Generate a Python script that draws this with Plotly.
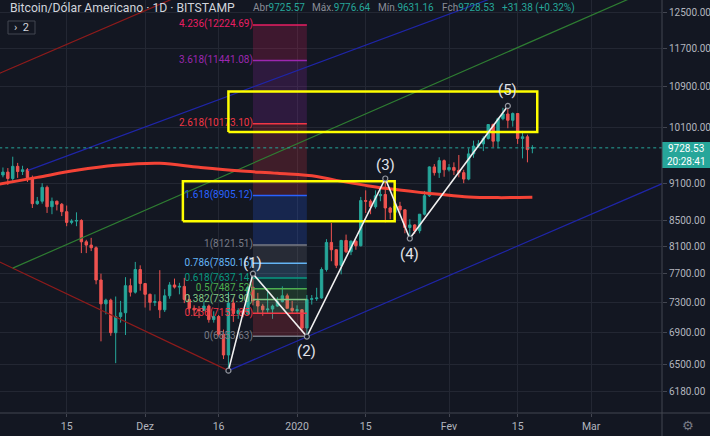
import math
import plotly.graph_objects as go
import pandas as pd

# ---------------- data ----------------
dates = pd.date_range("2019-11-01", "2020-02-18", freq="D")
opens = [9140, 9250, 9300, 9190, 9400, 9310, 9340, 9200, 8770, 8810, 9040, 8720, 8810, 8760, 8640, 8470, 8490, 8500, 8170, 8120,
         8080, 7610, 7280, 7330, 6900, 7110, 7160, 7530, 7440, 7760,
         7560, 7410, 7300, 7310, 7200, 7390, 7540, 7510, 7520, 7340, 7220, 7200, 7190, 7250, 7070, 7110, 6880, 6620, 7290, 7150,
         7190, 7140, 7510, 7320, 7250, 7200, 7210, 7250, 7310, 7390, 7220,
         7190, 7200, 6960, 7340, 7350, 7360, 7760, 8160, 8050, 7820, 8190, 8020, 8180, 8110, 8820, 8810, 8720, 8900, 8920, 8700,
         8630, 8730, 8670, 8390, 8430, 8340, 8600, 8900, 9390, 9290, 9500,
         9340, 9380, 9330, 9290, 9180, 9620, 9760, 9800, 9900, 10160, 9850, 10270, 10360, 10240, 10370, 9900, 9930, 9725.57]
highs = [9280, 9380, 9370, 9570, 9460, 9410, 9370, 9240, 8880, 9110, 9070, 8870, 8820, 8780, 8740, 8520, 8630, 8520, 8200, 8230,
         8100, 7700, 7350, 7350, 7380, 7320, 7650, 7630, 7870, 7820,
         7560, 7420, 7410, 7750, 7480, 7580, 7630, 7570, 7640, 7400, 7260, 7250, 7310, 7270, 7180, 7130, 6940, 7440, 7360, 7220,
         7200, 7520, 7690, 7430, 7280, 7450, 7270, 7370, 7520, 7420, 7320,
         7260, 7210, 7400, 7400, 7500, 7790, 8210, 8460, 8060, 8200, 8280, 8190, 8190, 8880, 8990, 8840, 8990, 9000, 9190, 8720,
         8770, 8800, 8680, 8520, 8440, 8600, 8980, 9400, 9440, 9560, 9520,
         9440, 9470, 9600, 9340, 9720, 9860, 9870, 9940, 10160, 10180, 10290, 10480, 10520, 10390, 10370, 10040, 9970, 9776.64]
lows = [9030, 9210, 9080, 9150, 9200, 9250, 9130, 8700, 8750, 8770, 8620, 8600, 8660, 8570, 8410, 8440, 8410, 8000, 8000, 8030,
        7550, 6790, 7140, 6860, 6520, 7030, 6870, 7380, 7420, 7460,
        7230, 7190, 7250, 7090, 7170, 7350, 7490, 7410, 7290, 7160, 7130, 7090, 7180, 7030, 7030, 6850, 6570, 6430, 7040, 7080,
        7100, 7130, 7260, 7160, 7120, 7160, 7080, 7240, 7300, 7220, 7160,
        7150, 6920, 6850, 7270, 7320, 7350, 7730, 7880, 7780, 7690, 8000, 7970, 8050, 8100, 8620, 8600, 8690, 8810, 8470, 8520,
        8500, 8580, 8300, 8230, 8290, 8300, 8580, 8880, 9240, 9200, 9220,
        9310, 9250, 9210, 9110, 9160, 9550, 9730, 9670, 9880, 9740, 9720, 10240, 10090, 10120, 9800, 9540, 9470, 9631.16]
closes = [9250, 9300, 9190, 9400, 9310, 9340, 9200, 8770, 8810, 9040, 8720, 8810, 8760, 8640, 8470, 8490, 8500, 8170, 8120, 8080,
          7610, 7280, 7330, 6900, 7110, 7160, 7530, 7440, 7760, 7560,
          7410, 7300, 7310, 7200, 7390, 7540, 7510, 7520, 7340, 7220, 7200, 7190, 7250, 7070, 7110, 6880, 6620, 7290, 7150, 7190,
          7140, 7510, 7320, 7250, 7200, 7210, 7250, 7310, 7390, 7220, 7190,
          7200, 6960, 7340, 7350, 7360, 7760, 8160, 8050, 7820, 8190, 8020, 8180, 8110, 8820, 8810, 8720, 8900, 8920, 8700, 8630,
          8730, 8670, 8390, 8430, 8340, 8600, 8900, 9390, 9290, 9500, 9340,
          9380, 9330, 9290, 9180, 9620, 9760, 9800, 9900, 10160, 9850, 10270, 10360, 10240, 10370, 9900, 9930, 9697.15, 9728.53]

ma_dates = ["2019-11-01", "2019-11-09", "2019-11-17", "2019-11-25", "2019-12-04", "2019-12-12", "2019-12-20", "2019-12-28",
            "2020-01-05", "2020-01-09", "2020-01-15", "2020-01-19", "2020-01-26", "2020-01-30", "2020-02-05", "2020-02-11",
            "2020-02-18"]
ma_values = [9090, 9209, 9330, 9417, 9452, 9382, 9321, 9278, 9226, 9158, 9073, 9023, 8956, 8923, 8879, 8869, 8874]

wave_dates = ["2019-12-18", "2019-12-23", "2020-01-03", "2020-01-19", "2020-01-24", "2020-02-13"]
wave_prices = [6430, 7700, 6850, 9190, 8220, 10517]
wave_labels = ["", "(1)", "(2)", "(3)", "(4)", "(5)"]
wave_label_shift = [0, 11, -14, 13, -15, 16]

fib_ratios = [0, 0.236, 0.382, 0.5, 0.618, 0.786, 1, 1.618, 2.618, 3.618, 4.236]
fib_prices = [6853.63, 7152.85, 7337.90, 7487.52, 7637.14, 7850.16, 8121.51, 8905.12, 10173.10, 11441.08, 12224.69]
fib_colors = ["#787b86", "#f23645", "#81c784", "#4caf50", "#089981", "#64b5f6", "#787b86", "#2962ff", "#f23645",
              "#9c27b0", "#e91e63"]
fib_dates = ["2019-12-23", "2020-01-03"]

# trend lines (date, price)
red_down = (["2019-10-30", "2019-12-18"], [7950, 6430])
green_up = (["2019-11-04", "2020-03-15"], [7780, 13156])
blue_low = (["2019-12-18", "2020-03-16"], [6430, 9120])
blue_up = (["2019-11-07 03:00", "2020-02-11 13:00"], [9330, 12925])
red_top = (["2019-10-30", "2019-12-10"], [11073, 13005])

rect_a = (["2019-12-08 17:00", "2020-01-20 22:00"], [8486, 9141])
rect_b = (["2019-12-18 00:00", "2020-02-19 00:00"], [10019, 10802])

last_price = 9728.53
y_ticks = [6180, 6500, 6900, 7300, 7700, 8100, 8500, 9100, 10100, 10900, 11700, 12500]
x_tick_dates = ["2019-11-15", "2019-12-01", "2019-12-16", "2020-01-01", "2020-01-15", "2020-02-01", "2020-02-15", "2020-03-01"]
x_tick_text = ["15", "Dez", "16", "2020", "15", "Fev", "15", "Mar"]

# ---------------- figure ----------------
BG = "#131722"
GRID = "#232733"
TXT = "#b2b5be"
TEAL = "#26a69a"
W, H = 710, 436
PW, PH = 662, 413


def px(x):
    return x / PW


def py(y):
    return 1 - y / PH


fig = go.Figure()

# fib zones
for i in range(len(fib_ratios) - 1):
    c = fib_colors[i + 1]
    r, g, b = int(c[1:3], 16), int(c[3:5], 16), int(c[5:7], 16)
    fig.add_trace(go.Scatter(
        x=[fib_dates[0], fib_dates[1], fib_dates[1], fib_dates[0], fib_dates[0]],
        y=[fib_prices[i], fib_prices[i], fib_prices[i + 1], fib_prices[i + 1], fib_prices[i]],
        mode="lines", fill="toself", fillcolor=f"rgba({r},{g},{b},0.2)", line=dict(width=0),
        hoverinfo="skip", showlegend=False))
for i, p in enumerate(fib_prices):
    fig.add_trace(go.Scatter(x=fib_dates, y=[p, p], mode="lines", line=dict(color=fib_colors[i], width=1.5),
                             hoverinfo="skip", showlegend=False))
fig.add_trace(go.Scatter(
    x=[fib_dates[0]] * len(fib_prices), y=fib_prices, mode="text",
    text=[f"{r}({p:.2f})" for r, p in zip(fib_ratios, fib_prices)],
    textposition="middle left", textfont=dict(color=fib_colors, size=10, family="Roboto"),
    hoverinfo="skip", showlegend=False))

# trend lines
for (lx, ly), col in [(red_down, "#8e1b1b"), (green_up, "#2e7d32"), (blue_low, "#1f25a8"),
                      (blue_up, "#1f25a8"), (red_top, "#8e1b1b")]:
    fig.add_trace(go.Scatter(x=lx, y=ly, mode="lines", line=dict(color=col, width=1.2),
                             hoverinfo="skip", showlegend=False))

# moving average
fig.add_trace(go.Scatter(x=ma_dates, y=ma_values, mode="lines", line=dict(color="#f44336", width=3, shape="spline"),
                         hoverinfo="skip", showlegend=False))

# candles
fig.add_trace(go.Candlestick(
    x=dates, open=opens, high=highs, low=lows, close=closes,
    increasing=dict(line=dict(color=TEAL, width=1), fillcolor=TEAL),
    decreasing=dict(line=dict(color="#ef5350", width=1), fillcolor="#ef5350"),
    whiskerwidth=0, showlegend=False))

# last price dotted line
fig.add_trace(go.Scatter(x=["2019-10-20", "2020-03-25"], y=[last_price, last_price], mode="lines",
                         line=dict(color=TEAL, width=1, dash="dot"), hoverinfo="skip", showlegend=False))

# yellow rectangles
for (rx, ry) in [rect_a, rect_b]:
    fig.add_trace(go.Scatter(x=[rx[0], rx[1], rx[1], rx[0], rx[0]], y=[ry[0], ry[0], ry[1], ry[1], ry[0]],
                             mode="lines", line=dict(color="#ffff00", width=2.5), hoverinfo="skip", showlegend=False))

# Elliott wave
fig.add_trace(go.Scatter(x=wave_dates, y=wave_prices, mode="lines+markers",
                         line=dict(color="#f0f0f0", width=1.6),
                         marker=dict(symbol="circle", size=5, color=BG, line=dict(color="#9598a1", width=1.2)),
                         hoverinfo="skip", showlegend=False))

ann = []
for d, p, t, s in zip(wave_dates, wave_prices, wave_labels, wave_label_shift):
    if t:
        ann.append(dict(text=t, x=d, y=math.log10(p), xref="x", yref="y", yshift=s, showarrow=False,
                        xanchor="center", yanchor="middle",
                        font=dict(color="#e0e3eb", size=15, family="Roboto")))

ann.append(dict(text="Bitcoin/Dólar Americano · 1D · BITSTAMP", x=px(8), y=py(8), xref="paper", yref="paper",
                xanchor="left", yanchor="middle", showarrow=False, font=dict(size=12.2, color="#d1d4dc", family="Roboto")))
ohlc = [("Abr", "9725.57", 251), ("Máx.", "9776.64", 310), ("Mín.", "9631.16", 376.5), ("Fch", "9728.53", 440),
        ("", "+31.38 (+0.32%)", 500)]
for lab, val, xx in ohlc:
    ann.append(dict(text=f"{lab}<span style='color:{TEAL}'>{val}</span>", x=px(xx), y=py(8), xref="paper",
                    yref="paper", xanchor="left", yanchor="middle", showarrow=False,
                    font=dict(size=10, color="#8a8d97", family="Roboto")))
ann.append(dict(text="›  2", x=px(21.5), y=py(27.5), xref="paper", yref="paper", xanchor="center", yanchor="middle",
                showarrow=False, font=dict(size=11, color="#d1d4dc", family="Roboto")))
ann.append(dict(text="9728.53", x=px(686), y=py(148.5), xref="paper", yref="paper", xanchor="center", yanchor="middle",
                showarrow=False, font=dict(size=10, color="#ffffff", family="Roboto")))
ann.append(dict(text="20:28:41", x=px(686), y=py(161.5), xref="paper", yref="paper", xanchor="center", yanchor="middle",
                showarrow=False, font=dict(size=10, color="#ffffff", family="Roboto")))
ann.append(dict(text="⚙", x=px(688), y=py(425), xref="paper", yref="paper", xanchor="center", yanchor="middle",
                showarrow=False, font=dict(size=13, color="#787b86", family="DejaVu Sans")))

shapes = [
    dict(type="rect", xref="paper", yref="paper", x0=px(8), x1=px(35), y0=py(34), y1=py(21),
         line=dict(color="#434651", width=1), fillcolor="rgba(0,0,0,0)"),
    dict(type="rect", xref="paper", yref="paper", x0=px(662), x1=px(710), y0=py(168), y1=py(142),
         line=dict(width=0), fillcolor=TEAL, layer="above"),
    dict(type="line", xref="paper", yref="paper", x0=px(662), x1=px(662), y0=py(436), y1=py(0),
         line=dict(color="#434651", width=1)),
    dict(type="line", xref="paper", yref="paper", x0=0, x1=px(710), y0=py(413), y1=py(413),
         line=dict(color="#434651", width=1)),
]

fig.update_layout(
    width=W, height=H, autosize=False,
    paper_bgcolor=BG, plot_bgcolor=BG,
    margin=dict(l=0, r=W - PW, t=0, b=H - PH, pad=0),
    showlegend=False,
    annotations=ann, shapes=shapes,
    font=dict(family="Roboto", color=TXT),
    xaxis=dict(type="date", range=["2019-11-01 09:36", "2020-03-15 10:48"], rangeslider=dict(visible=False),
               tickvals=x_tick_dates, ticktext=x_tick_text, showgrid=True, gridcolor=GRID, gridwidth=1,
               showline=False, ticks="outside", ticklen=3, tickcolor="#434651", zeroline=False,
               tickfont=dict(size=10.5, color=TXT, family="Roboto")),
    yaxis=dict(type="log", side="right", range=[3.77402, 4.10739], tickvals=y_ticks,
               ticktext=[f"{v:.2f}" for v in y_ticks], showgrid=True, gridcolor=GRID, gridwidth=1,
               showline=False, ticks="outside", ticklen=4, tickcolor="#434651", zeroline=False,
               tickfont=dict(size=10, color=TXT, family="Roboto")),
)

fig.write_html("out.html", config={"displayModeBar": False},
               post_script="document.body.style.margin='0';document.body.style.padding='0';"
                           "document.body.style.background='#131722';")
